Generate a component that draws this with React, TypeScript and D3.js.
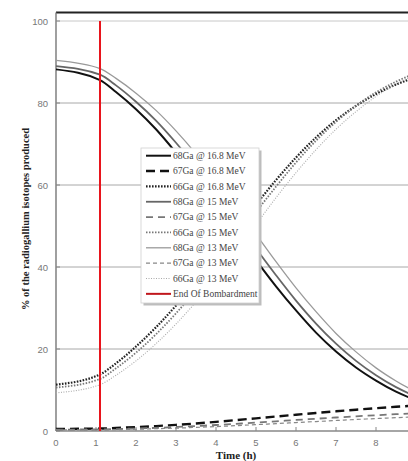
import React from "react";
import * as d3 from "d3";

const times = [0, 1.1, 1.5, 2, 2.5, 3, 3.5, 4, 4.5, 5, 5.5, 6, 6.5, 7, 7.5, 8, 8.5, 9];

const ga68_168 = [88.2, 85.6, 82.7, 78.5, 73.6, 67.9, 61.8, 55.2, 48.4, 41.7, 35.3, 29.4, 24.0, 19.4, 15.5, 12.3, 9.6, 7.5];
const ga67_168 = [0.5, 0.6, 0.74, 0.95, 1.2, 1.5, 1.84, 2.23, 2.65, 3.09, 3.53, 3.97, 4.4, 4.81, 5.2, 5.56, 5.9, 6.2];
const ga66_168 = [11.3, 13.8, 16.5, 20.6, 25.3, 30.6, 36.4, 42.6, 49.0, 55.2, 61.2, 66.7, 71.6, 75.8, 79.3, 82.2, 84.5, 86.3];

const ga68_15 = [89.0, 86.9, 84.3, 80.3, 75.7, 70.3, 64.4, 58.0, 51.3, 44.5, 38.0, 31.8, 26.2, 21.3, 17.1, 13.6, 10.7, 8.4];
const ga67_15 = [0.35, 0.38, 0.47, 0.6, 0.77, 0.97, 1.2, 1.46, 1.75, 2.05, 2.36, 2.69, 2.99, 3.29, 3.58, 3.84, 4.1, 4.33];
const ga66_15 = [10.6, 12.7, 15.3, 19.1, 23.6, 28.7, 34.4, 40.6, 47.0, 53.4, 59.6, 65.5, 70.8, 75.4, 79.3, 82.6, 85.2, 87.3];

const ga68_13 = [90.4, 88.4, 86.0, 82.4, 78.2, 73.2, 67.6, 61.4, 54.8, 48.0, 41.3, 34.9, 29.1, 23.8, 19.3, 15.4, 12.2, 9.5];
const ga67_13 = [0.25, 0.27, 0.33, 0.43, 0.56, 0.7, 0.88, 1.08, 1.3, 1.55, 1.8, 2.06, 2.31, 2.56, 2.81, 3.03, 3.25, 3.45];
const ga66_13 = [9.3, 11.3, 13.6, 17.1, 21.3, 26.1, 31.5, 37.6, 43.9, 50.4, 56.9, 63.0, 68.6, 73.6, 77.9, 81.6, 84.6, 87.0];

const eobTime = 1.1;
const xTicks = [0, 1, 2, 3, 4, 5, 6, 7, 8];
const yTicks = [0, 20, 40, 60, 80, 100];

const seriesNames = [
  "68Ga @ 16.8 MeV",
  "67Ga @ 16.8 MeV",
  "66Ga @ 16.8 MeV",
  "68Ga @ 15 MeV",
  "67Ga @ 15 MeV",
  "66Ga @ 15 MeV",
  "68Ga @ 13 MeV",
  "67Ga @ 13 MeV",
  "66Ga @ 13 MeV",
];
const eobName = "End Of Bombardment";

const seriesValues = [ga68_168, ga67_168, ga66_168, ga68_15, ga67_15, ga66_15, ga68_13, ga67_13, ga66_13];

const styles = [
  { stroke: "#111", width: 2, dash: "" },
  { stroke: "#111", width: 2.4, dash: "9,5" },
  { stroke: "#222", width: 2.2, dash: "1.6,1.4" },
  { stroke: "#666", width: 1.8, dash: "" },
  { stroke: "#777", width: 1.8, dash: "7,5" },
  { stroke: "#777", width: 1.8, dash: "1.5,1.5" },
  { stroke: "#9a9a9a", width: 1.3, dash: "" },
  { stroke: "#888", width: 1.2, dash: "4,3" },
  { stroke: "#aaa", width: 1.1, dash: "1,1.5" },
];

export default function App() {
  const W = 408;
  const H = 461;
  const x0 = 56;
  const pxPerHour = 40;
  const x = d3.scaleLinear().domain([0, 10]).range([x0, x0 + 10 * pxPerHour]);
  const y = d3.scaleLinear().domain([0, 100]).range([431, 21]);

  const line = d3
    .line<[number, number]>()
    .x((d) => x(d[0]))
    .y((d) => y(d[1]))
    .curve(d3.curveMonotoneX);

  const plotTop = 12.5;
  const plotBottom = y(0);
  const serif = "'Liberation Serif', 'Times New Roman', serif";
  const sans = "'Liberation Sans', Arial, sans-serif";

  const legX = 141;
  const legY = 148;
  const legW = 118;
  const legH = 155;
  const rowY0 = 155.7;
  const rowStep = 15.35;

  return (
    <svg
      width={W}
      height={H}
      style={{ position: "absolute", left: 0, top: 0, background: "#fff" }}
    >
      <rect x={0} y={0} width={W} height={H} fill="#fff" />
      {/* grid */}
      {yTicks.filter((v) => v > 0).map((v) => (
        <line key={"g" + v} x1={x0} x2={W} y1={y(v)} y2={y(v)} stroke={v === 100 ? "#c8c8c8" : "#a8a8a8"} strokeWidth={1} />
      ))}
      {/* top border */}
      <line x1={x0} x2={W} y1={plotTop} y2={plotTop} stroke="#222" strokeWidth={1.8} />
      {/* axes */}
      <line x1={x0} x2={x0} y1={plotTop} y2={plotBottom} stroke="#777" strokeWidth={1.4} />
      <line x1={x0} x2={W} y1={plotBottom} y2={plotBottom} stroke="#888" strokeWidth={1.4} />
      {yTicks.map((v) => (
        <g key={"yt" + v}>
          <line x1={x0} x2={x0 + 4} y1={y(v)} y2={y(v)} stroke="#888" strokeWidth={1} />
          <text x={48} y={y(v) + 3.5} textAnchor="end" fontFamily={sans} fontSize={9.5} fill="#777">
            {v}
          </text>
        </g>
      ))}
      {xTicks.map((t) => (
        <g key={"xt" + t}>
          <line x1={x(t)} x2={x(t)} y1={plotBottom} y2={plotBottom - 4} stroke="#888" strokeWidth={1} />
          <text x={x(t)} y={446} textAnchor="middle" fontFamily={sans} fontSize={9.5} fill="#777">
            {t}
          </text>
        </g>
      ))}
      {/* series */}
      {seriesValues.map((vals, i) => (
        <path
          key={"s" + i}
          d={line(times.map((t, j) => [t, vals[j]] as [number, number])) || ""}
          fill="none"
          stroke={styles[i].stroke}
          strokeWidth={styles[i].width}
          strokeDasharray={styles[i].dash || undefined}
        />
      ))}
      {/* EOB line */}
      <line x1={x(eobTime)} x2={x(eobTime)} y1={y(100)} y2={plotBottom} stroke="#e8141c" strokeWidth={2} />
      {/* axis titles */}
      <text
        transform={`translate(29,219) rotate(-90)`}
        textAnchor="middle"
        fontFamily={serif}
        fontWeight="bold"
        fontSize={10.5}
        fill="#222"
      >
        % of the radiogallium isotopes produced
      </text>
      <text x={236} y={459} textAnchor="middle" fontFamily={serif} fontWeight="bold" fontSize={11} fill="#222">
        Time (h)
      </text>
      {/* legend */}
      <rect x={legX + 2.5} y={legY + 2.5} width={legW} height={legH} fill="#bdbdbd" />
      <rect x={legX} y={legY} width={legW} height={legH} fill="#fff" stroke="#d0d0d0" strokeWidth={0.8} />
      {seriesNames.map((name, i) => {
        const ry = rowY0 + i * rowStep;
        return (
          <g key={"l" + i}>
            <line
              x1={146}
              x2={171}
              y1={ry}
              y2={ry}
              stroke={styles[i].stroke}
              strokeWidth={styles[i].width}
              strokeDasharray={styles[i].dash || undefined}
            />
            <text x={173} y={ry + 3.3} fontFamily={serif} fontSize={9.5} fill="#444">
              {name}
            </text>
          </g>
        );
      })}
      <line x1={146} x2={171} y1={rowY0 + 9 * rowStep} y2={rowY0 + 9 * rowStep} stroke="#c0161c" strokeWidth={2} />
      <text x={173} y={rowY0 + 9 * rowStep + 3.3} fontFamily={serif} fontSize={9.5} fill="#444">
        {eobName}
      </text>
    </svg>
  );
}
